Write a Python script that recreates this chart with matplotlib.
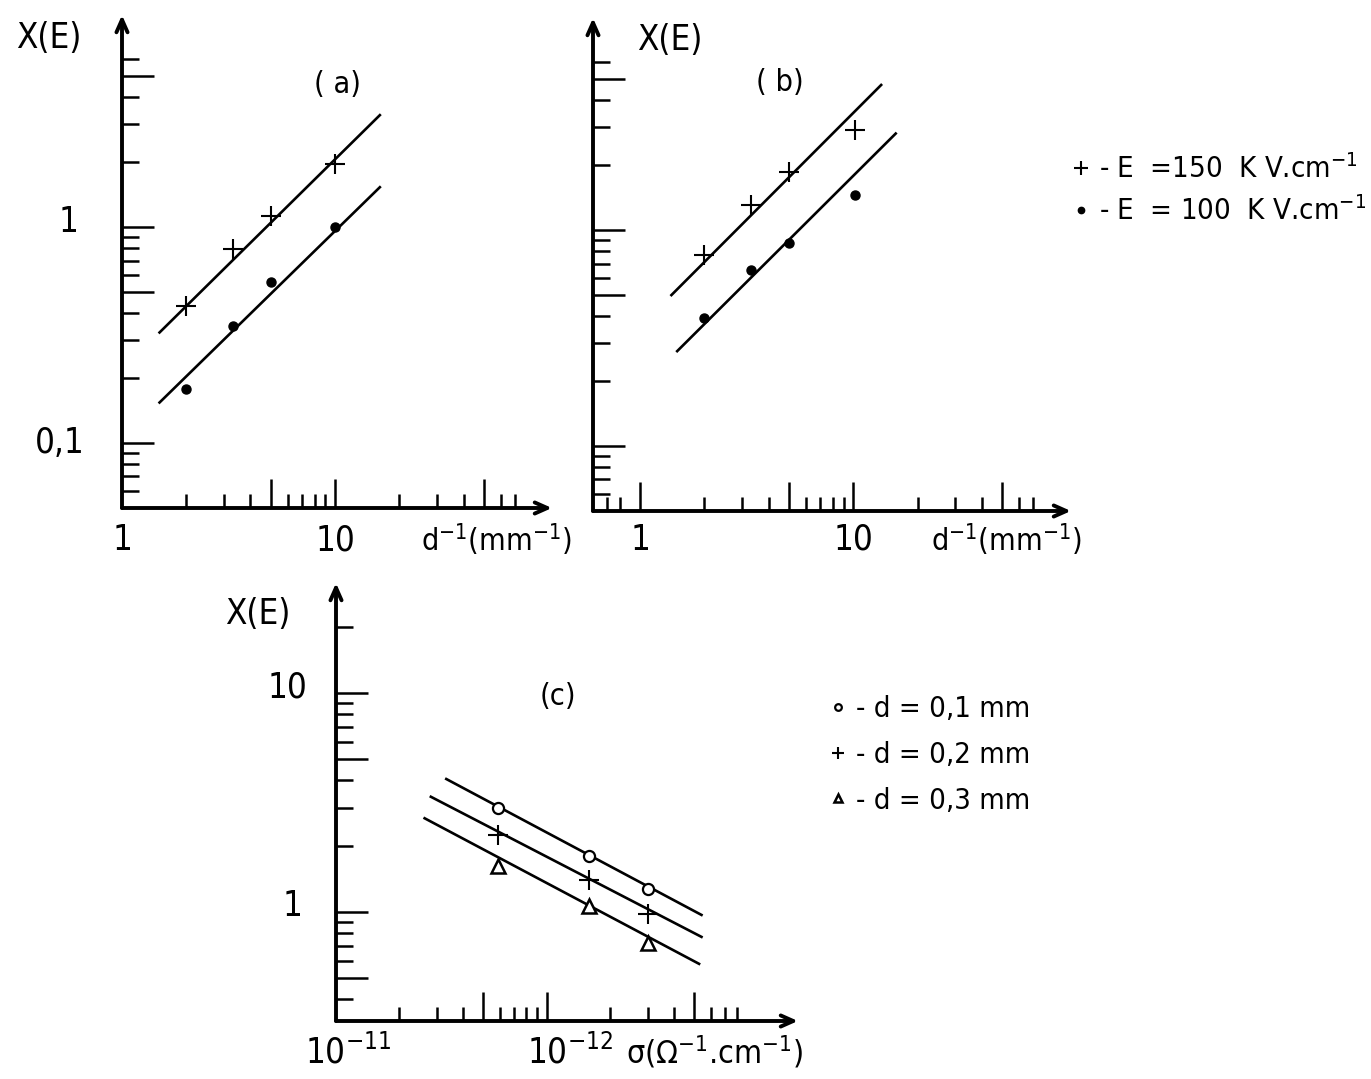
import numpy as np
import matplotlib
matplotlib.use('Agg')
import matplotlib.pyplot as plt

plt.rcParams['font.family'] = ['DejaVu Sans']
plt.rcParams['font.stretch'] = 'condensed'
plt.rcParams['mathtext.default'] = 'regular'

# ---- data ----
# panels (a) and (b): X(E) against d^-1 (mm^-1)
d_inv_a = [2, 3.3, 5, 10]
x_a_150 = [0.43, 0.79, 1.13, 1.95]
x_a_100 = [0.177, 0.347, 0.555, 1.0]
fit_a_x = [1.5, 16.2]
fit_a_150 = [0.325, 3.3]
fit_a_100 = [0.154, 1.53]

d_inv_b = [2, 3.3, 5, 10.2]
x_b_150 = [0.77, 1.3, 1.85, 2.9]
x_b_100 = [0.39, 0.65, 0.87, 1.45]
fit_b_x_150 = [1.4, 13.5]
fit_b_150 = [0.5, 4.7]
fit_b_x_100 = [1.49, 15.8]
fit_b_100 = [0.275, 2.8]

legend_ab = ['- E  =150  K V.cm$^{-1}$', '- E  = 100  K V.cm$^{-1}$']

# panel (c): X(E) against sigma (ohm^-1 cm^-1)
sigma_c = [1.7e-12, 6.3e-13, 3.3e-13]
x_c_01 = [3.0, 1.8, 1.28]
x_c_02 = [2.25, 1.4, 0.98]
x_c_03 = [1.62, 1.07, 0.72]
fit_c_sigma = [3.0e-12, 1.85e-13]
fit_c_sigma_03 = [3.8e-12, 1.9e-13]
fit_c_sigma_02 = [3.55e-12, 1.85e-13]
fit_c_01 = [4.05, 0.97]
fit_c_02 = [3.36, 0.77]
fit_c_03 = [2.68, 0.58]

legend_c = ['- d = 0,1 mm', '- d = 0,2 mm', '- d = 0,3 mm']

W, H = 1371, 1079
fig = plt.figure(figsize=(W / 100, H / 100), dpi=100)


def box(left, right, top, bottom):
    return [left / W, 1 - bottom / H, (right - left) / W, (bottom - top) / H]


def style_axes(ax, xmajor, xminor, ymajor, yminor):
    for s in ax.spines.values():
        s.set_visible(False)
    ax.set_xticks(xmajor)
    ax.set_xticks(xminor, minor=True)
    ax.set_yticks(ymajor)
    ax.set_yticks(yminor, minor=True)
    ax.set_xticklabels([])
    ax.set_yticklabels([])
    ax.set_xticklabels([], minor=True)
    ax.set_yticklabels([], minor=True)
    ax.tick_params(axis='x', which='major', direction='in', length=21, width=1.8)
    ax.tick_params(axis='x', which='minor', direction='in', length=10, width=1.8)
    ax.tick_params(axis='y', which='major', direction='in', length=23, width=1.8)
    ax.tick_params(axis='y', which='minor', direction='in', length=12, width=1.8)
    ax.patch.set_alpha(0)
    arrow = dict(arrowstyle='->,head_length=0.9,head_width=0.4', lw=2.8, color='black',
                 shrinkA=0, shrinkB=0)
    ax.annotate('', xy=(1.0, 0), xytext=(0, 0), xycoords='axes fraction',
                arrowprops=arrow, annotation_clip=False)
    ax.annotate('', xy=(0, 1.0), xytext=(0, 0), xycoords='axes fraction',
                arrowprops=arrow, annotation_clip=False)


y_major_ab = [0.1, 0.5, 1, 5]
y_minor_ab = [0.06, 0.07, 0.08, 0.09, 0.2, 0.3, 0.4, 0.6, 0.7, 0.8, 0.9, 2, 3, 4, 6]
x_major_ab = [5, 10, 50]
x_minor_ab = [2, 3, 4, 6, 7, 8, 9, 20, 30, 40, 60, 70]

ln = dict(color='black', lw=1.9)
plus = dict(ls='none', marker='+', ms=15, mew=1.5, color='black')
dot = dict(ls='none', marker='o', ms=6.5, color='black')

# ---- (a) ----
ax_a = fig.add_axes(box(122, 552, 15, 508))
ax_a.set_xscale('log')
ax_a.set_yscale('log')
ax_a.set_xlim(1, 104)
ax_a.set_ylim(0.05, 9.6)
style_axes(ax_a, x_major_ab, x_minor_ab, y_major_ab, y_minor_ab)
ax_a.plot(fit_a_x, fit_a_150, **ln)
ax_a.plot(fit_a_x, fit_a_100, **ln)
ax_a.plot(d_inv_a, x_a_150, **plus)
ax_a.plot(d_inv_a, x_a_100, **dot)
ax_a.text(-0.17, 0.953, 'X(E)', transform=ax_a.transAxes, fontsize=25, ha='center', va='center')
ax_a.text(0.5, 0.86, '( a)', transform=ax_a.transAxes, fontsize=22, ha='center', va='center')
ax_a.text(-0.125, 1.06, '1', transform=ax_a.get_yaxis_transform(), fontsize=25, ha='center', va='center')
ax_a.text(-0.145, 0.1, '0,1', transform=ax_a.get_yaxis_transform(), fontsize=25, ha='center', va='center')
xt = ax_a.get_xaxis_transform()
ax_a.text(1, -0.065, '1', transform=xt, fontsize=25, ha='center', va='center')
ax_a.text(10, -0.065, '10', transform=xt, fontsize=25, ha='center', va='center')
ax_a.text(0.87, -0.065, 'd$^{-1}$(mm$^{-1}$)', transform=ax_a.transAxes, fontsize=22, ha='center', va='center')

# ---- (b) ----
ax_b = fig.add_axes(box(593, 1071, 18, 511))
ax_b.set_xscale('log')
ax_b.set_yscale('log')
ax_b.set_xlim(0.6, 105)
ax_b.set_ylim(0.05, 9.6)
style_axes(ax_b, [1] + x_major_ab, [0.7, 0.8] + x_minor_ab, y_major_ab, y_minor_ab)
ax_b.plot(fit_b_x_150, fit_b_150, **ln)
ax_b.plot(fit_b_x_100, fit_b_100, **ln)
h_plus, = ax_b.plot(d_inv_b, x_b_150, **plus)
h_dot, = ax_b.plot(d_inv_b, x_b_100, **dot)
ax_b.text(0.16, 0.955, 'X(E)', transform=ax_b.transAxes, fontsize=25, ha='center', va='center')
ax_b.text(0.39, 0.87, '( b)', transform=ax_b.transAxes, fontsize=22, ha='center', va='center')
xt = ax_b.get_xaxis_transform()
ax_b.text(1, -0.058, '1', transform=xt, fontsize=25, ha='center', va='center')
ax_b.text(10, -0.058, '10', transform=xt, fontsize=25, ha='center', va='center')
ax_b.text(0.865, -0.058, 'd$^{-1}$(mm$^{-1}$)', transform=ax_b.transAxes, fontsize=22, ha='center', va='center')
ax_b.legend([h_plus, h_dot], legend_ab, loc='center left', bbox_to_anchor=(1058 / W, 1 - 190 / H),
            bbox_transform=fig.transFigure, frameon=False, fontsize=21, handlelength=0.6,
            handletextpad=0.3, labelspacing=0.4, markerscale=0.7, borderpad=0)

# ---- (c) ----
ax_c = fig.add_axes(box(336, 798, 583, 1021))
ax_c.set_xscale('log')
ax_c.set_yscale('log')
ax_c.set_xlim(1e-11, 1e-11 / 155)
ax_c.set_ylim(0.318, 31.8)
u_major = np.array([5, 10, 50])
u_minor = np.array([2, 3, 4, 6, 7, 8, 9, 20, 30, 40, 60, 70, 80])
style_axes(ax_c, 1e-11 / u_major, 1e-11 / u_minor, [0.5, 1, 5, 10],
           [0.4, 0.6, 0.7, 0.8, 0.9, 2, 3, 4, 6, 7, 8, 9, 20])
ax_c.plot(fit_c_sigma, fit_c_01, **ln)
ax_c.plot(fit_c_sigma_02, fit_c_02, **ln)
ax_c.plot(fit_c_sigma_03, fit_c_03, **ln)
h1, = ax_c.plot(sigma_c, x_c_01, ls='none', marker='o', ms=8, mfc='white', mec='black', mew=1.6)
h2, = ax_c.plot(sigma_c, x_c_02, **plus)
h3, = ax_c.plot(sigma_c, x_c_03, ls='none', marker='^', ms=10, mfc='white', mec='black', mew=1.8)
ax_c.text(-0.17, 0.93, 'X(E)', transform=ax_c.transAxes, fontsize=25, ha='center', va='center')
ax_c.text(0.48, 0.74, '(c)', transform=ax_c.transAxes, fontsize=22, ha='center', va='center')
yt = ax_c.get_yaxis_transform()
ax_c.text(-0.105, 10.6, '10', transform=yt, fontsize=25, ha='center', va='center')
ax_c.text(-0.095, 1.07, '1', transform=yt, fontsize=25, ha='center', va='center')
xt = ax_c.get_xaxis_transform()
ax_c.text(8.8e-12, -0.072, '10$^{-11}$', transform=xt, fontsize=25, ha='center', va='center')
ax_c.text(7.8e-13, -0.072, '10$^{-12}$', transform=xt, fontsize=25, ha='center', va='center')
ax_c.text(0.82, -0.072, 'σ(Ω$^{-1}$.cm$^{-1}$)', transform=ax_c.transAxes, fontsize=23, ha='center', va='center')
ax_c.legend([h1, h2, h3], legend_c, loc='center left', bbox_to_anchor=(815 / W, 1 - 755 / H),
            bbox_transform=fig.transFigure, frameon=False, fontsize=21, handlelength=0.6,
            handletextpad=0.3, labelspacing=0.6, markerscale=0.6, borderpad=0)

fig.savefig('out.png', dpi=100)
